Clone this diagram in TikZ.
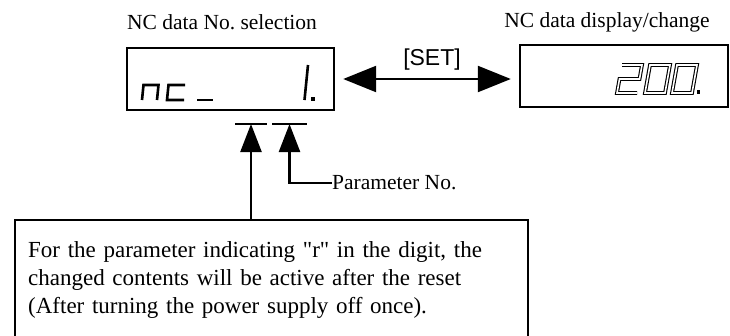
\documentclass[tikz,border=0pt]{standalone}
\usepackage{fontspec}
\setmainfont{Liberation Serif}
\newfontfamily\keyfont{Liberation Sans}
\usepackage{tikz}
\usetikzlibrary{arrows.meta, positioning}
\tikzset{
  lcdbox/.style={
    rectangle, draw, line width=2.4pt,
    minimum height=62pt, inner sep=0pt
  },
  notebox/.style={
    rectangle, draw, line width=2.4pt, align=left,
    inner xsep=13pt, inner ysep=0pt,
    font=\fontsize{23}{28}\selectfont
  },
  titletext/.style={font=\fontsize{21.5}{24}\selectfont, inner sep=0pt},
  segsolid/.style={draw, line width=2.6pt, line join=miter},
  seghollow/.style={draw, line width=1.1pt, double=white, double distance=1.6pt},
  setarrow/.style={
    line width=2.4pt,
    {Triangle[length=33pt, width=26pt]}-{Triangle[length=33pt, width=26pt]}
  },
  uparrow/.style={line width=2.4pt, -{Triangle[length=28pt, width=21pt]}},
  markbar/.style={line width=2.4pt}
}

\begin{document}
\begin{tikzpicture}[x=1pt, y=-1pt]
  \clip (0,0) rectangle (730,335);

  % display windows
  \node[lcdbox, minimum width=207pt] (selbox) at (230.5,79) {};
  \node[lcdbox, minimum width=208pt] (valbox) at (624,76) {};
  \node[titletext] (seltitle) at (222,22) {NC data No.\ selection};
  \node[titletext] (valtitle) at (607,22) {NC data display/change};

  % SET key switches between the two
  \draw[setarrow, shorten <=8pt, shorten >=8pt] (selbox.east) -- (selbox.east -| valbox.west);
  \node[font=\keyfont\fontsize{23}{26}\selectfont, inner sep=0pt] (setkey) at (432,60) {[SET]};

  % segment characters
  \draw[segsolid] (142,100) -- (143.5,85) -- (158.5,85) -- (157,100);
  \draw[segsolid] (185,85) -- (168.5,85) -- (167,100) -- (184,100);
  \draw[segsolid] (197,100) -- (213,100);
  \draw[segsolid] (308,65) -- (304.5,100);
  \fill (311,97) rectangle (314.5,100.5);
  \draw[seghollow] (622,65) -- (642,65) -- (639.5,79) -- (619.5,79) -- (617,93) -- (637,93);
  \foreach \x in {645,672}
    \draw[seghollow] (\x+5,65) -- (\x+25,65) -- (\x+20,93) -- (\x,93) -- cycle;
  \fill (697,90) rectangle (700,93.5);

  % digit marks under the selection window
  \coordinate (digmark) at (251,124);
  \coordinate (nummark) at (289.5,124);
  \draw[markbar] ([xshift=-16pt]digmark) -- ([xshift=16pt]digmark);
  \draw[markbar] ([xshift=-17.5pt]nummark) -- ([xshift=17.5pt]nummark);

  \node[titletext, anchor=west] (paramno) at (332,183) {Parameter No.};
  \node[notebox, anchor=north west, minimum width=513pt, minimum height=120pt,
        text width=487pt] (note) at (14,219) {%
    For the parameter indicating \textquotedbl r\textquotedbl{} in the digit, the\\
    changed contents will be active after the reset\\
    (After turning the power supply off once).};

  \draw[uparrow] (note.north -| digmark) -- (digmark);
  \draw[uparrow] (paramno.west) -| (nummark);
\end{tikzpicture}
\end{document}
